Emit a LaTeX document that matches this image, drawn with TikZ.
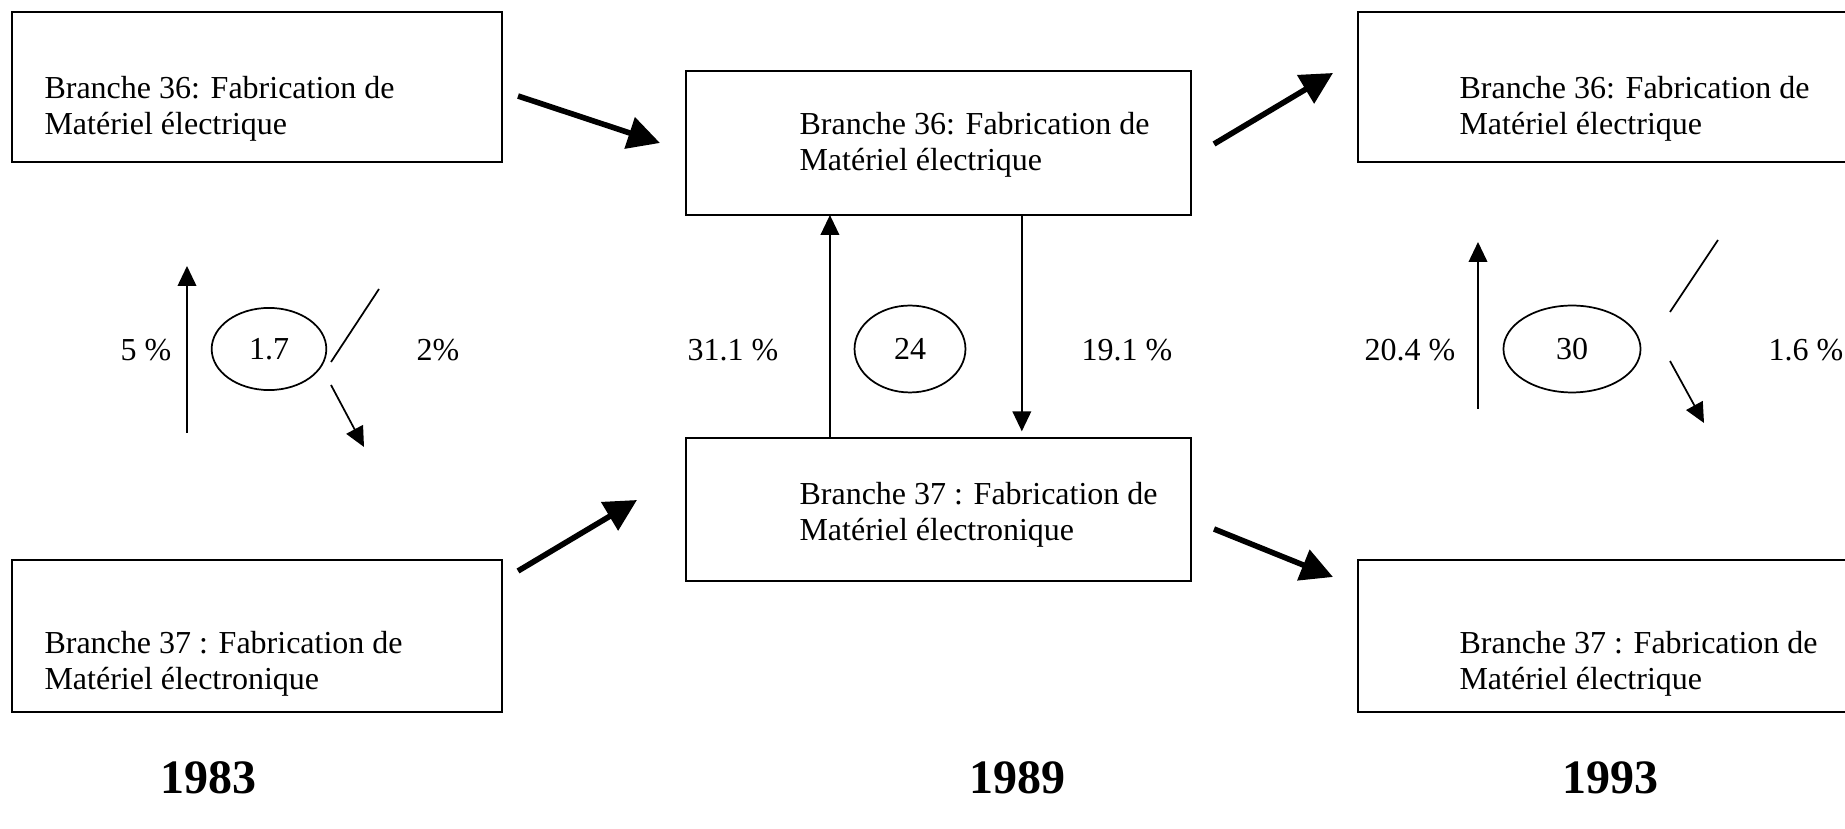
\documentclass[tikz,border=0pt]{standalone}
\usepackage{fontspec}
\setmainfont{Liberation Serif}
\usetikzlibrary{arrows.meta,shapes.geometric,calc}

\begin{document}
\begin{tikzpicture}[x=0.375pt,y=-0.375pt,
  box/.style={rectangle,draw,line width=1pt,inner sep=0.,outer sep=0.},
  txt/.style={anchor=west,align=left,inner sep=0.,font=\fontsize{12}{13.4}\selectfont},
  lbl/.style={anchor=base,inner sep=0.,font=\fontsize{12}{13.4}\selectfont},
  rate/.style={ellipse,draw,line width=0.65pt,inner sep=0.,font=\fontsize{12}{13.4}\selectfont},
  flow/.style={line width=2.1pt,-{Triangle[length=12pt,width=12pt]}},
  share/.style={line width=0.65pt,-{Triangle[length=7.5pt,width=7pt]}},
  year/.style={anchor=base,inner sep=0.,font=\fontsize{18}{21}\selectfont\bfseries}]%
  \useasboundingbox (0,0) rectangle (1845,829);
  \clip (0,0) rectangle (1845,829);

  % 1983
  \node[box,minimum width=183.75pt,minimum height=56.25pt] (b36a) at (257,87) {};
  \node[box,minimum width=183.75pt,minimum height=57pt] (b37a) at (257,636) {};
  \node[txt] (t36a) at (44,109) {Branche 36: Fabrication de\\Matériel électrique};
  \node[txt] (t37a) at (44,664) {Branche 37 : Fabrication de\\Matériel électronique};
  \node[rate,minimum width=43pt,minimum height=30.8pt] (r83) at (269,349) {1.7};
  \node[lbl] (p83u) at (146,361) {5 \%};
  \node[lbl] (p83d) at (438,361) {2\%};
  \coordinate (u83s) at (187,433);
  \coordinate (u83e) at (187,266);
  \coordinate (l83s) at (331,362);
  \coordinate (l83e) at (379,289);
  \coordinate (d83s) at (331,385);
  \coordinate (d83e) at (364,447);
  \draw[share] (u83s) -- (u83e);
  \draw[line width=0.65pt] (l83s) -- (l83e);
  \draw[share] (d83s) -- (d83e);
  \node[year] (y83) at (208,794) {1983};

  % 1989
  \node[box,minimum width=189.375pt,minimum height=54pt] (b36b) at (938.5,143) {};
  \node[box,minimum width=189.375pt,minimum height=53.625pt] (b37b) at (938.5,509.5) {};
  \node[txt] (t36b) at (799,145) {Branche 36: Fabrication de\\Matériel électrique};
  \node[txt] (t37b) at (799,515) {Branche 37 : Fabrication de\\Matériel électronique};
  \node[rate,minimum width=41.6pt,minimum height=32.6pt] (r89) at (910,349) {24};
  \node[lbl] (p89u) at (733,361) {31.1 \%};
  \node[lbl] (p89d) at (1127,361) {19.1 \%};
  \draw[share] ($(b37b.north west)!0.285!(b37b.north east)$) -- ($(b36b.south west)!0.285!(b36b.south east)$);
  \draw[share,shorten >=2.5pt] ($(b36b.south west)!0.665!(b36b.south east)$) -- ($(b37b.north west)!0.665!(b37b.north east)$);
  \node[year] (y89) at (1017,794) {1989};

  % 1993
  \node[box,minimum width=187.5pt,minimum height=56.25pt] (b36c) at (1608,87) {};
  \node[box,minimum width=187.5pt,minimum height=57pt] (b37c) at (1608,636) {};
  \node[txt] (t36c) at (1459,109) {Branche 36: Fabrication de\\Matériel électrique};
  \node[txt] (t37c) at (1459,664) {Branche 37 : Fabrication de\\Matériel électrique};
  \node[rate,minimum width=51.4pt,minimum height=32.6pt] (r93) at (1572,349) {30};
  \node[lbl] (p93u) at (1410,361) {20.4 \%};
  \node[lbl] (p93d) at (1806,361) {1.6 \%};
  \coordinate (u93s) at (1478,409);
  \coordinate (u93e) at (1478,242);
  \coordinate (l93s) at (1670,312);
  \coordinate (l93e) at (1718,240);
  \coordinate (d93s) at (1670,361);
  \coordinate (d93e) at (1704,423);
  \draw[share] (u93s) -- (u93e);
  \draw[line width=0.65pt] (l93s) -- (l93e);
  \draw[share] (d93s) -- (d93e);
  \node[year] (y93) at (1610,794) {1993};

  % passages d'une annee a l'autre
  \coordinate (f1s) at (518,96);
  \coordinate (f1e) at (660,143);
  \coordinate (f2s) at (518,571);
  \coordinate (f2e) at (637,500);
  \coordinate (f3s) at (1214,144);
  \coordinate (f3e) at (1333,73);
  \coordinate (f4s) at (1214,529);
  \coordinate (f4e) at (1333,577);
  \draw[flow] (f1s) -- (f1e);
  \draw[flow] (f2s) -- (f2e);
  \draw[flow] (f3s) -- (f3e);
  \draw[flow] (f4s) -- (f4e);
\end{tikzpicture}
\end{document}
